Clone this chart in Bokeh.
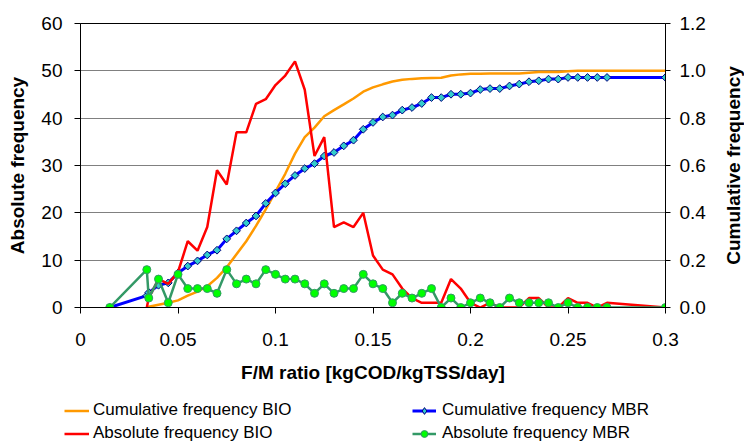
import math
from bokeh.plotting import figure
from bokeh.layouts import column, row
from bokeh.models import (Range1d, LinearAxis, FixedTicker, CustomJSTickFormatter,
                          PrintfTickFormatter, Legend, LegendItem)
from bokeh.embed import file_html
from bokeh.resources import INLINE

# ---- data ----
x_bio = [0.034, 0.035, 0.04, 0.045, 0.05, 0.055, 0.06, 0.065, 0.07, 0.075, 0.08, 0.085,
         0.09, 0.095, 0.1, 0.105, 0.11, 0.115, 0.12, 0.125, 0.13, 0.135, 0.14, 0.145,
         0.15, 0.155, 0.16, 0.165, 0.17, 0.175, 0.18, 0.185, 0.19, 0.195, 0.2, 0.205,
         0.21, 0.215, 0.22, 0.225, 0.23, 0.235, 0.24, 0.245, 0.25, 0.255, 0.26, 0.265,
         0.27, 0.3]
abs_bio = [0, 2, 6, 5, 7.5, 14, 12, 17, 29, 26, 37, 37, 43, 44, 47, 49, 52, 46, 32, 36,
           17, 18, 17, 20, 11, 8, 7, 4, 2, 1, 1, 1, 6, 4, 1, 0, 1, 0, 0, 0, 2, 2, 0, 0,
           2, 1, 1, 0, 1, 0]
cum_bio = [0, 0.003, 0.012, 0.02, 0.03, 0.05, 0.067, 0.09, 0.125, 0.17, 0.225, 0.28,
           0.345, 0.415, 0.49, 0.565, 0.65, 0.72, 0.76, 0.808, 0.834, 0.858, 0.883, 0.912,
           0.93, 0.943, 0.955, 0.962, 0.966, 0.969, 0.97, 0.971, 0.98, 0.985, 0.988, 0.988,
           0.989, 0.989, 0.989, 0.989, 0.992, 0.995, 0.995, 0.995, 0.998, 1.0, 1.0, 1.0,
           1.0, 1.0]

x_mbr = [0.015, 0.034, 0.035, 0.04, 0.045, 0.05, 0.055, 0.06, 0.065, 0.07, 0.075, 0.08,
         0.085, 0.09, 0.095, 0.1, 0.105, 0.11, 0.115, 0.12, 0.125, 0.13, 0.135, 0.14,
         0.145, 0.15, 0.155, 0.16, 0.165, 0.17, 0.175, 0.18, 0.185, 0.19, 0.195, 0.2,
         0.205, 0.21, 0.215, 0.22, 0.225, 0.23, 0.235, 0.24, 0.245, 0.25, 0.255, 0.26,
         0.265, 0.27, 0.3]
abs_mbr = [0, 8, 2, 6, 1, 7, 4, 4, 4, 3, 8, 5, 6, 5, 8, 7, 6, 6, 5, 3, 5, 3, 4, 4, 7, 5,
           4, 1, 3, 2, 3, 4, 0, 2, 0, 1, 2, 1, 0, 2, 1, 1, 1, 1, 0, 1, 0, 0, 0, 0, 0]
cum_mbr = [0, 0.05, 0.063, 0.094, 0.104, 0.146, 0.175, 0.197, 0.222, 0.242, 0.29, 0.324,
           0.357, 0.387, 0.44, 0.484, 0.523, 0.558, 0.587, 0.608, 0.64, 0.655, 0.683, 0.707,
           0.753, 0.782, 0.805, 0.813, 0.834, 0.845, 0.862, 0.887, 0.887, 0.901, 0.901,
           0.906, 0.921, 0.925, 0.925, 0.936, 0.944, 0.954, 0.958, 0.965, 0.965, 0.972,
           0.972, 0.972, 0.972, 0.972, 0.972]

x_ticks = [0, 0.05, 0.1, 0.15, 0.2, 0.25, 0.3]
y_ticks = [0, 10, 20, 30, 40, 50, 60]
y2_ticks = [0, 0.2, 0.4, 0.6, 0.8, 1.0, 1.2]

FONT = "Liberation Sans"
C_ORANGE, C_BLUE, C_RED, C_GREEN = "#FF9900", "#0000FF", "#FF0000", "#339966"

# ---------------- main chart ----------------
p = figure(width=712, height=386, output_backend="svg", toolbar_location=None,
           x_range=Range1d(0, 0.3), y_range=Range1d(0, 60),
           min_border_left=80, min_border_right=47, min_border_top=23, min_border_bottom=79)
p.extra_y_ranges = {"cum": Range1d(0, 1.2)}
p.background_fill_color = "white"
p.border_fill_color = "white"
p.outline_line_color = "black"
p.outline_line_width = 1

p.xgrid.visible = False
p.ygrid.ticker = FixedTicker(ticks=[10, 20, 30, 40, 50])
p.ygrid.grid_line_color = "#808080"
p.ygrid.grid_line_width = 1

def style_axis(ax):
    ax.axis_line_color = "black"
    ax.axis_line_width = 1
    ax.major_tick_line_color = "black"
    ax.major_tick_in = 0
    ax.major_tick_out = 6
    ax.minor_tick_line_color = None
    ax.major_label_text_font = FONT
    ax.major_label_text_font_size = "19px"
    ax.major_label_text_color = "black"
    ax.axis_label_text_font = FONT
    ax.axis_label_text_font_size = "19px"
    ax.axis_label_text_font_style = "bold"
    ax.axis_label_text_color = "black"

xa = p.xaxis[0]
xa.ticker = FixedTicker(ticks=x_ticks)
xa.formatter = CustomJSTickFormatter(code="return Number(tick.toFixed(3)).toString();")
xa.axis_label = "F/M ratio [kgCOD/kgTSS/day]"
style_axis(xa)
xa.major_label_standoff = 19
xa.axis_label_standoff = 13

ya = p.yaxis[0]
ya.ticker = FixedTicker(ticks=y_ticks)
ya.axis_label = "Absolute frequency"
style_axis(ya)
ya.major_label_standoff = 12
ya.axis_label_standoff = 10

yr = LinearAxis(y_range_name="cum", ticker=FixedTicker(ticks=y2_ticks),
                formatter=PrintfTickFormatter(format="%.1f"))
style_axis(yr)
yr.major_tick_out = 5
yr.major_label_standoff = 9
p.add_layout(yr, "right")

# series style
ORANGE_KW = dict(line_color=C_ORANGE, line_width=2.5)
BLUE_KW = dict(line_color=C_BLUE, line_width=3)
BLUE_M_KW = dict(marker="square", angle=math.pi / 4, size=5.5,
                 fill_color="#33CCCC", line_color="#000080", line_width=1)
RED_KW = dict(line_color=C_RED, line_width=2.5)
GREEN_KW = dict(line_color=C_GREEN, line_width=2.5)
GREEN_M_KW = dict(marker="circle", size=8, fill_color="#00FF00", line_color=C_GREEN,
                  line_width=1)

# series (cumulative first, absolute on top)
p.line(x_bio, cum_bio, y_range_name="cum", **ORANGE_KW)
p.line(x_mbr, cum_mbr, y_range_name="cum", **BLUE_KW)
p.scatter(x_mbr, cum_mbr, y_range_name="cum", **BLUE_M_KW)
p.line(x_bio, abs_bio, **RED_KW)
p.line(x_mbr, abs_mbr, **GREEN_KW)
p.scatter(x_mbr, abs_mbr, **GREEN_M_KW)

# ---------------- right-hand axis title (reads bottom to top) ----------------
pr = figure(width=32, height=386, output_backend="svg", toolbar_location=None,
            x_axis_location=None, y_axis_location=None,
            x_range=Range1d(0, 1), y_range=Range1d(0, 1),
            min_border_left=31, min_border_right=0, min_border_top=23, min_border_bottom=79)
pr.outline_line_color = None
pr.grid.visible = False
pr.background_fill_color = "white"
pr.border_fill_color = "white"
tax = LinearAxis(axis_label="Cumulative frequency", ticker=FixedTicker(ticks=[]))
tax.axis_line_color = None
tax.major_tick_line_color = None
tax.minor_tick_line_color = None
tax.major_tick_out = 0
tax.major_tick_in = 0
tax.major_label_standoff = 0
tax.axis_label_standoff = 0
tax.axis_label_text_font = FONT
tax.axis_label_text_font_size = "19px"
tax.axis_label_text_font_style = "bold"
tax.axis_label_text_color = "black"
pr.add_layout(tax, "left")

# ---------------- legend strip ----------------
# the same series are drawn here far outside the visible range, only to feed the legend
pl = figure(width=744, height=55, output_backend="svg", toolbar_location=None,
            x_axis_location=None, y_axis_location=None,
            x_range=Range1d(0, 1), y_range=Range1d(100, 101),
            min_border_left=0, min_border_right=0, min_border_top=0, min_border_bottom=0)
pl.outline_line_color = None
pl.grid.visible = False
pl.background_fill_color = "white"
pl.border_fill_color = "white"
l_orange = pl.line(x_bio, cum_bio, **ORANGE_KW)
l_red = pl.line(x_bio, abs_bio, **RED_KW)
l_blue = pl.line(x_mbr, cum_mbr, **BLUE_KW)
l_blue_m = pl.scatter(x_mbr, cum_mbr, marker="diamond", size=5.5,
                      fill_color="#33CCCC", line_color="#000080", line_width=1)
l_green = pl.line(x_mbr, abs_mbr, **GREEN_KW)
l_green_m = pl.scatter(x_mbr, abs_mbr, **GREEN_M_KW)

def make_legend(items, loc, standoff, gw):
    lg = Legend(items=items, location=loc, orientation="vertical")
    lg.border_line_color = None
    lg.background_fill_alpha = 0
    lg.padding = 0
    lg.margin = 0
    lg.spacing = 0
    lg.glyph_width = gw
    lg.glyph_height = 17
    lg.label_height = 23
    lg.label_standoff = standoff
    lg.label_text_font = FONT
    lg.label_text_font_size = "17px"
    lg.label_text_color = "black"
    return lg

leg1 = make_legend([LegendItem(label="Cumulative frequency BIO", renderers=[l_orange]),
                    LegendItem(label="Absolute frequency BIO", renderers=[l_red])],
                   (64, -3.5), 4, 25)
leg2 = make_legend([LegendItem(label="Cumulative frequency MBR", renderers=[l_blue, l_blue_m]),
                    LegendItem(label="Absolute frequency MBR", renderers=[l_green, l_green_m])],
                   (412, -3.5), 6, 24)
pl.add_layout(leg1, "center")
pl.add_layout(leg2, "center")

layout = column(row(p, pr, spacing=0), pl, spacing=0)
open("out.html", "w").write(file_html(layout, INLINE))
